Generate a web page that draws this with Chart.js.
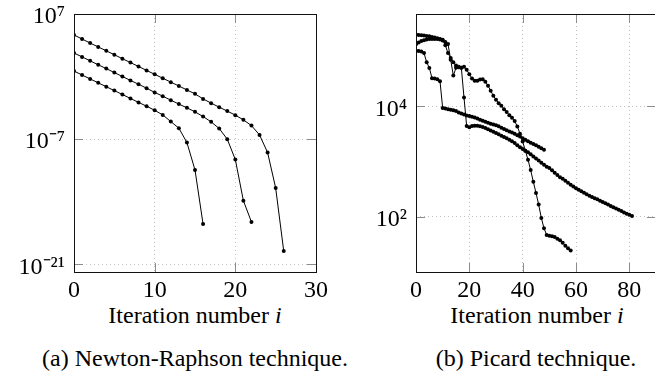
<!DOCTYPE html>
<html><head><meta charset="utf-8">
<script src="https://cdn.jsdelivr.net/npm/chart.js@4/dist/chart.umd.min.js"></script>
<style>
html,body{margin:0;padding:0;width:655px;height:372px;overflow:hidden;background:#fff;}
#wrap{position:relative;width:655px;height:372px;overflow:hidden;}
canvas{position:absolute;top:0;}
#cNR{left:0;}
#cPC{left:330px;}
.lbl{position:absolute;font-family:"Liberation Serif","Times New Roman",serif;font-size:24px;color:#000;white-space:nowrap;line-height:1;transform:translateX(-50%);}
</style></head><body>
<div id="wrap">
<canvas id="cNR" width="330" height="300"></canvas>
<canvas id="cPC" width="328" height="300"></canvas>
<div class="lbl" style="left:195px;top:302.6px">Iteration number <i>i</i></div>
<div class="lbl" style="left:537px;top:302.6px">Iteration number <i>i</i></div>
<div class="lbl" style="left:195px;top:345.6px">(a) Newton-Raphson technique.</div>
<div class="lbl" style="left:536px;top:345.6px">(b) Picard technique.</div>
</div>
<script>
// ---- (a) Newton-Raphson ----
const nrIterTicks = [0, 10, 20, 30];
const nrYTicks = [1e7, 1e-7, 1e-21];
const nrYTickLabels = ['10⁷', '10⁻⁷', '10⁻²¹'];
const nrXRange = [0, 30];
const nrYRange = [1.4e-22, 1e7];
const nrTop = [4.5e4, 1.6e4, 5.6e3, 2.1e3, 7.6e2, 2.8e2, 1.0e2, 37, 13.5, 4.9, 1.8, 0.66, 0.24, 0.089, 0.032, 0.0117, 3.2e-3, 1.07e-3, 3.8e-4, 1.38e-4, 4.9e-5, 1.45e-5, 3.3e-6, 3.0e-7, 3.2e-9, 3.5e-13, 3.1e-20];
const nrMid = [4.3e2, 1.6e2, 58, 21, 7.8, 2.8, 1.02, 0.37, 0.14, 0.050, 0.017, 6.5e-3, 2.3e-3, 8.5e-4, 3.2e-4, 1.15e-4, 3.4e-5, 8.7e-6, 1.55e-6, 1.0e-7, 5.2e-10, 1.3e-14, 5.5e-17];
const nrLow = [4.2, 1.5, 0.55, 0.20, 0.074, 0.027, 0.010, 3.6e-3, 1.3e-3, 4.9e-4, 1.7e-4, 5.2e-5, 9.3e-6, 1.7e-6, 4.2e-8, 3.6e-11, 3.2e-17];

// ---- (b) Picard ----
const pcIterTicks = [0, 20, 40, 60, 80];
const pcYTicks = [1e2, 1e4];
const pcYTickLabels = ['10²', '10⁴'];
const pcXRange = [0, 90];
const pcYRange = [10, 4.7e5];
const pcSteep = [2.0e5, 1.96e5, 1.93e5, 1.91e5, 1.88e5, 1.85e5, 1.81e5, 1.76e5, 1.71e5, 1.65e5, 1.6e5, 1.28e5, 9.2e4, 7.5e4, 6.3e4, 5.5e4, 5.1e4, 5.0e4, 5.2e4, 4.6e4, 3.8e4, 3.2e4, 2.9e4, 2.9e4, 3.05e4, 3.1e4, 2.8e4, 2.37e4, 1.92e4, 1.56e4, 1.32e4, 1.14e4, 1.03e4, 8.9e3, 7.9e3, 6.9e3, 6.2e3, 5.4e3, 4.3e3, 3.2e3, 2.3e3, 1.57e3, 1.08e3, 7.0e2, 4.3e2, 2.7e2, 1.66e2, 95, 62, 47, 45.5, 44.6, 43, 40, 37.7, 34, 30, 27, 24.6];
const pcLong = [1.33e5, 1.43e5, 1.52e5, 1.58e5, 1.62e5, 1.65e5, 1.66e5, 1.66e5, 1.65e5, 1.62e5, 1.55e5, 1.46e5, 1.34e5, 7.0e4, 3.6e4, 5.0e4, 5.2e4, 5.0e4, 1.44e4, 4.4e3, 4.2e3, 4.4e3, 4.47e3, 4.43e3, 4.34e3, 4.23e3, 4.06e3, 3.86e3, 3.67e3, 3.48e3, 3.3e3, 3.13e3, 2.94e3, 2.79e3, 2.63e3, 2.49e3, 2.34e3, 2.16e3, 1.98e3, 1.82e3, 1.69e3, 1.57e3, 1.47e3, 1.36e3, 1.24e3, 1.14e3, 1.04e3, 955, 879, 809, 766, 693, 630, 572, 521, 490, 451, 415, 382, 354, 330, 310, 291, 273, 257, 241, 229, 217, 207, 196, 185, 176, 166, 157, 149, 141, 134, 127, 120, 114, 109, 103];
const pcShort = [1.02e5, 1.0e5, 9.8e4, 9.2e4, 6.3e4, 4.96e4, 3.24e4, 3.18e4, 3.1e4, 2.86e4, 9.3e3, 9.1e3, 8.9e3, 8.7e3, 8.5e3, 8.2e3, 7.7e3, 7.4e3, 7.1e3, 6.8e3, 6.65e3, 6.5e3, 6.25e3, 6.0e3, 5.74e3, 5.5e3, 5.28e3, 5.07e3, 4.86e3, 4.7e3, 4.56e3, 4.38e3, 4.11e3, 3.9e3, 3.7e3, 3.52e3, 3.37e3, 3.2e3, 3.0e3, 2.83e3, 2.65e3, 2.49e3, 2.34e3, 2.2e3, 2.08e3, 1.97e3, 1.86e3, 1.75e3, 1.64e3];

const FONT = '"Liberation Serif", "Times New Roman", serif';
Chart.defaults.font.family = FONT;

function toPoints(values) { return values.map((v, i) => ({ x: i, y: v })); }

const framePlugin = {
  id: 'frame',
  afterDraw(chart) {
    const { ctx, chartArea: a, scales } = chart;
    const L = 9;
    ctx.save();
    ctx.lineWidth = 1;
    ctx.strokeStyle = '#8c8c8c';
    const seg = (x1, y1, x2, y2) => { ctx.beginPath(); ctx.moveTo(x1, y1); ctx.lineTo(x2, y2); ctx.stroke(); };
    scales.x.ticks.forEach(t => {
      const px = Math.round(scales.x.getPixelForValue(t.value)) + 0.5;
      seg(px, a.bottom, px, a.bottom - L);
      seg(px, a.top, px, a.top + L);
    });
    scales.y.ticks.forEach(t => {
      const py = Math.round(scales.y.getPixelForValue(t.value)) + 0.5;
      seg(a.left, py, a.left + L, py);
      seg(a.right, py, a.right - L, py);
    });
    ctx.strokeStyle = '#111';
    ctx.strokeRect(Math.round(a.left) + 0.5, Math.round(a.top) + 0.5, Math.round(a.right - a.left), Math.round(a.bottom - a.top));
    ctx.restore();
  }
};

function makeChart(id, seriesList, xRange, yRange, xTicks, yTicks, yLabels, yAxisWidth, rightPad) {
  const gridStyle = { color: 'rgba(0,0,0,0.24)', lineWidth: 1, drawTicks: false };
  const borderStyle = { display: false, dash: [1, 3] };
  return new Chart(document.getElementById(id), {
    type: 'line',
    data: {
      datasets: seriesList.map(s => ({
        data: toPoints(s),
        borderColor: '#000', borderWidth: 1,
        pointRadius: 2, pointHoverRadius: 2,
        pointBackgroundColor: '#000', pointBorderWidth: 0,
        fill: false, tension: 0
      }))
    },
    options: {
      responsive: false, animation: false, events: [],
      layout: { padding: { left: 0, right: rightPad, top: 14, bottom: 0 } },
      plugins: { legend: { display: false }, tooltip: { enabled: false }, title: { display: false } },
      scales: {
        x: {
          type: 'linear', min: xRange[0], max: xRange[1],
          afterBuildTicks: s => { s.ticks = xTicks.map(v => ({ value: v })); },
          afterFit: s => { s.height = 28; s.paddingLeft = 0; s.paddingRight = 0; },
          ticks: { autoSkip: false, maxRotation: 0, padding: 4, color: '#000',
                   font: { size: 24, family: FONT, lineHeight: 1.2 }, callback: v => String(v) },
          grid: gridStyle, border: borderStyle
        },
        y: {
          type: 'logarithmic', min: yRange[0], max: yRange[1],
          afterBuildTicks: s => { s.ticks = yTicks.map(v => ({ value: v })); },
          afterFit: s => { s.width = yAxisWidth; s.paddingTop = 0; s.paddingBottom = 0; },
          ticks: { autoSkip: false, padding: 9, labelOffset: 3, color: '#000',
                   font: { size: 24, family: FONT, lineHeight: 1.2 }, callback: (v, i) => yLabels[i] },
          grid: gridStyle, border: borderStyle
        }
      }
    },
    plugins: [framePlugin]
  });
}

makeChart('cNR', [nrTop, nrMid, nrLow], nrXRange, nrYRange, nrIterTicks, nrYTicks, nrYTickLabels, 74, 14);
makeChart('cPC', [pcSteep, pcLong, pcShort], pcXRange, pcYRange, pcIterTicks, pcYTicks, pcYTickLabels, 86, 0);
</script>
</body></html>
